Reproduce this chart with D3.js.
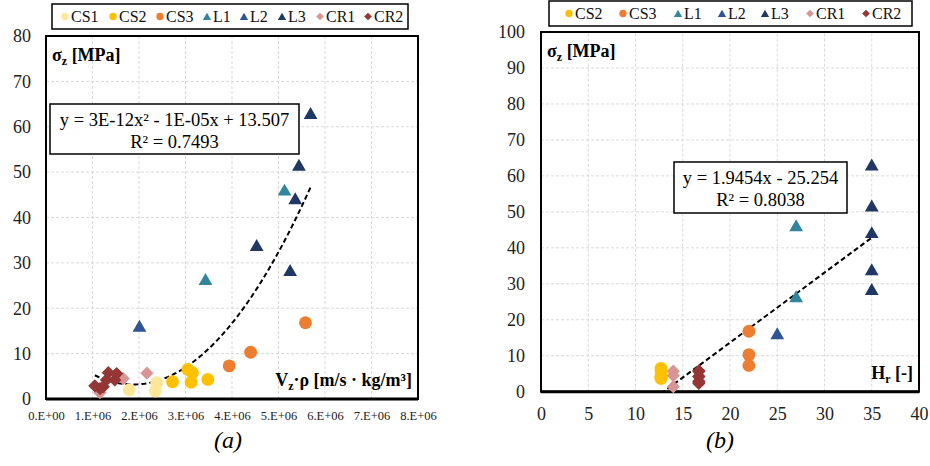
<!DOCTYPE html>
<html>
<head>
<meta charset="utf-8">
<script src="https://cdn.jsdelivr.net/npm/d3@7"></script>
<style>
  html, body { margin: 0; padding: 0; background: #fff; }
  svg { display: block; }
  svg text { font-family: "Liberation Serif", "Times New Roman", serif; }
</style>
</head>
<body>
<svg id="chart" width="930" height="466"></svg>
<script>
// ---- data: sigma_z [MPa] per series, with V_z·rho and H_r ----
const seriesNames = ["CS1", "CS2", "CS3", "L1", "L2", "L3", "CR1", "CR2"];
const seriesColors = ["#FFE699", "#FFC000", "#ED7D31", "#31859C", "#2F5597", "#203864", "#D99594", "#943634"];
const seriesShapes = ["circle", "circle", "circle", "triangle", "triangle", "triangle", "diamond", "diamond"];

const sigmaCS1 = [2.0, 1.8, 3.6];
const sigmaCS2 = [6.5, 5.8, 3.7, 4.3, 3.8];
const sigmaCS3 = [16.8, 10.3, 7.3];
const sigmaL1  = [26.0, 45.7];
const sigmaL2  = [15.7];
const sigmaL3  = [62.6, 51.2, 43.8, 33.5, 28.0];
const sigmaCR1 = [5.7, 4.5, 1.4];
const sigmaCR2 = [5.8, 5.6, 4.2, 4.2, 2.9, 2.7, 2.3];

const vzRhoCS1 = [1.79e6, 2.35e6, 2.38e6];
const vzRhoCS2 = [3.05e6, 3.15e6, 3.12e6, 3.48e6, 2.72e6];
const vzRhoCS3 = [5.58e6, 4.40e6, 3.94e6];
const vzRhoL1  = [3.43e6, 5.13e6];
const vzRhoL2  = [2.01e6];
const vzRhoL3  = [5.69e6, 5.44e6, 5.36e6, 4.53e6, 5.25e6];
const vzRhoCR1 = [2.17e6, 1.66e6, 1.16e6];
const vzRhoCR2 = [1.34e6, 1.52e6, 1.48e6, 1.30e6, 1.05e6, 1.23e6, 1.16e6];

// H_r of each series (CS1 has no H_r value)
const hrValues = [null, 12.7, 22, 27, 25, 35, 14, 16.7];

// tick values
const xTicksA = [0, 1e6, 2e6, 3e6, 4e6, 5e6, 6e6, 7e6, 8e6];
const yTicksA = [0, 10, 20, 30, 40, 50, 60, 70, 80];
const xTicksB = [0, 5, 10, 15, 20, 25, 30, 35, 40];
const yTicksB = [0, 10, 20, 30, 40, 50, 60, 70, 80, 90, 100];

// linear trend of panel (b)
const trendB = [1.9454, -25.254];

const sigmaAll = [sigmaCS1, sigmaCS2, sigmaCS3, sigmaL1, sigmaL2, sigmaL3, sigmaCR1, sigmaCR2];
const vzRhoAll = [vzRhoCS1, vzRhoCS2, vzRhoCS3, vzRhoL1, vzRhoL2, vzRhoL3, vzRhoCR1, vzRhoCR2];

const FONT = "Liberation Serif";
const svg = d3.select("#chart");

function symbolPath(shape, big) {
  if (shape === "circle") return d3.symbol(d3.symbolCircle, big ? 130 : 42)();
  if (shape === "triangle") return d3.symbol(d3.symbolTriangle, big ? 82 : 30)();
  return d3.symbol(d3.symbolSquare, big ? 88 : 30)();
}
function symbolRotate(shape) { return shape === "diamond" ? " rotate(45)" : ""; }

function drawPanel(cfg) {
  const { x, y, g } = cfg;
  const [x0, x1] = x.range();
  const [y0, y1] = y.range();

  const clipId = cfg.id + "-clip";
  g.append("clipPath").attr("id", clipId)
    .append("rect").attr("x", x0).attr("y", y1).attr("width", x1 - x0).attr("height", y0 - y1);

  // grid
  const grid = g.append("g");
  grid.selectAll(".gx").data(cfg.xTicks.slice(1, -1)).join("line")
    .attr("x1", d => x(d)).attr("x2", d => x(d)).attr("y1", y0).attr("y2", y1)
    .attr("stroke", "#D9D9D9").attr("stroke-width", 1).attr("stroke-dasharray", "3,2");
  grid.selectAll(".gy").data(cfg.yTicks.slice(1, -1)).join("line")
    .attr("x1", x0).attr("x2", x1).attr("y1", d => y(d)).attr("y2", d => y(d))
    .attr("stroke", "#D9D9D9").attr("stroke-width", 1).attr("stroke-dasharray", "3,2");

  // axes
  const ax = g.append("g").attr("transform", `translate(0,${y0})`)
    .call(d3.axisBottom(x).tickValues(cfg.xTicks).tickSize(0).tickPadding(cfg.xPad).tickFormat(cfg.xFormat));
  ax.attr("font-family", FONT);
  ax.select(".domain").remove();
  ax.selectAll("text").attr("font-size", cfg.xFont).attr("fill", "#222");

  const ay = g.append("g").attr("transform", `translate(${x0},0)`)
    .call(d3.axisLeft(y).tickValues(cfg.yTicks).tickSize(0).tickPadding(cfg.yPad));
  ay.attr("font-family", FONT);
  ay.select(".domain").remove();
  ay.selectAll("text").attr("font-size", 18).attr("fill", "#222");

  // plot frame
  g.append("rect").attr("x", x0).attr("y", y1).attr("width", x1 - x0).attr("height", y0 - y1)
    .attr("fill", "none").attr("stroke", "#000").attr("stroke-width", 2);
  g.append("line").attr("x1", x0).attr("x2", x1).attr("y1", y0).attr("y2", y0)
    .attr("stroke", "#000").attr("stroke-width", 3);

  // axis titles
  const ty = g.append("text").attr("x", x0 + 6).attr("y", y1 + 25)
    .attr("font-weight", "bold").attr("font-size", 18);
  ty.append("tspan").text("σ");
  ty.append("tspan").attr("font-size", 12).attr("dy", 4).text("z");
  ty.append("tspan").attr("dy", -4).text(" [MPa]");

  const tx = g.append("text").attr("x", x1 - 6).attr("y", y0 - 13)
    .attr("text-anchor", "end").attr("font-weight", "bold").attr("font-size", 18);
  cfg.xTitle(tx);

  // trend line
  g.append("path").attr("clip-path", `url(#${clipId})`)
    .attr("d", d3.line().x(d => x(d[0])).y(d => y(d[1]))(cfg.trend))
    .attr("fill", "none").attr("stroke", "#000").attr("stroke-width", 2).attr("stroke-dasharray", "5,3");

  // points
  const pts = g.append("g");
  cfg.points.forEach(p => {
    pts.append("path")
      .attr("d", symbolPath(seriesShapes[p.s], true))
      .attr("transform", `translate(${x(p.x)},${y(p.y)})` + symbolRotate(seriesShapes[p.s]))
      .attr("fill", seriesColors[p.s]);
  });

  // equation box
  const eb = cfg.eqBox;
  g.append("rect").attr("x", eb.x).attr("y", eb.y).attr("width", eb.w).attr("height", eb.h)
    .attr("fill", "#fff").attr("stroke", "#000").attr("stroke-width", 1.5);
  g.append("text").attr("x", eb.x + eb.w / 2).attr("y", eb.y + 22)
    .attr("text-anchor", "middle").attr("font-size", 18.5).text(eb.line1);
  g.append("text").attr("x", eb.x + eb.w / 2).attr("y", eb.y + 44)
    .attr("text-anchor", "middle").attr("font-size", 18.5).text(eb.line2);

  // legend
  const lg = cfg.legend;
  g.append("rect").attr("x", lg.x).attr("y", lg.y).attr("width", lg.w).attr("height", lg.h)
    .attr("fill", "#fff").attr("stroke", "#000").attr("stroke-width", 1.5);
  lg.items.forEach((s, i) => {
    const cx = lg.xs[i];
    const cy = lg.y + lg.h / 2;
    g.append("path").attr("d", symbolPath(seriesShapes[s], false))
      .attr("transform", `translate(${cx},${cy + (seriesShapes[s] === "triangle" ? 1 : 0)})` + symbolRotate(seriesShapes[s]))
      .attr("fill", seriesColors[s]);
    g.append("text").attr("x", cx + 6).attr("y", cy + 5.5).attr("font-size", 16).attr("fill", "#111")
      .text(seriesNames[s]);
  });

  // caption
  g.append("text").attr("x", cfg.caption.x).attr("y", 448).attr("text-anchor", "middle")
    .attr("font-style", "italic").attr("font-size", 24).text(cfg.caption.t);
}

// ---- panel (a): quadratic least-squares trend ----
const ptsA = [];
sigmaAll.forEach((arr, s) => arr.forEach((v, i) => ptsA.push({ s, x: vzRhoAll[s][i], y: v })));

function quadFit(points) {
  // normal equations on x scaled to 1e6
  const S = [0, 0, 0, 0, 0], T = [0, 0, 0];
  points.forEach(p => {
    const u = p.x / 1e6;
    for (let k = 0; k < 5; k++) S[k] += Math.pow(u, k);
    for (let k = 0; k < 3; k++) T[k] += p.y * Math.pow(u, k);
  });
  const A = [[S[0], S[1], S[2], T[0]], [S[1], S[2], S[3], T[1]], [S[2], S[3], S[4], T[2]]];
  for (let i = 0; i < 3; i++) {
    for (let j = i + 1; j < 3; j++) {
      const f = A[j][i] / A[i][i];
      for (let k = i; k < 4; k++) A[j][k] -= f * A[i][k];
    }
  }
  const c = [0, 0, 0];
  for (let i = 2; i >= 0; i--) {
    let sum = A[i][3];
    for (let k = i + 1; k < 3; k++) sum -= A[i][k] * c[k];
    c[i] = sum / A[i][i];
  }
  return c; // c0 + c1 u + c2 u^2
}
const coefA = quadFit(ptsA);
const xMinA = d3.min(ptsA, d => d.x), xMaxA = d3.max(ptsA, d => d.x);
const trendA = d3.range(0, 101).map(i => {
  const xv = xMinA + (xMaxA - xMinA) * i / 100;
  const u = xv / 1e6;
  return [xv, coefA[0] + coefA[1] * u + coefA[2] * u * u];
});

const gA = svg.append("g").attr("font-family", FONT);
drawPanel({
  id: "pa", g: gA,
  x: d3.scaleLinear().domain([0, 8e6]).range([46, 418]),
  y: d3.scaleLinear().domain([0, 80]).range([399, 36]),
  xTicks: xTicksA, yTicks: yTicksA,
  xFormat: d => (d / 1e6).toFixed(0) + ".E+" + (d === 0 ? "00" : "06"),
  xFont: 12.5, xPad: 12, yPad: 15,
  xTitle: t => {
    t.append("tspan").text("V");
    t.append("tspan").attr("font-size", 12).attr("dy", 4).text("z");
    t.append("tspan").attr("dy", -4).text("·ρ [m/s · kg/m³]");
  },
  trend: trendA,
  points: ptsA,
  eqBox: { x: 50, y: 104, w: 249, h: 50, line1: "y = 3E-12x² - 1E-05x + 13.507", line2: "R² = 0.7493" },
  legend: { x: 52, y: 4, w: 356, h: 25, items: [0, 1, 2, 3, 4, 5, 6, 7],
            xs: [65, 113, 160, 207, 244, 282, 320, 368] },
  caption: { x: 228, t: "(a)" }
});

// ---- panel (b): linear trend ----
const ptsB = [];
sigmaAll.forEach((arr, s) => { if (hrValues[s] !== null) arr.forEach(v => ptsB.push({ s, x: hrValues[s], y: v })); });
const xMinB = d3.min(ptsB, d => d.x), xMaxB = d3.max(ptsB, d => d.x);
const trendLineB = [xMinB, xMaxB].map(h => [h, trendB[0] * h + trendB[1]]);

const gB = svg.append("g").attr("font-family", FONT);
drawPanel({
  id: "pb", g: gB,
  x: d3.scaleLinear().domain([0, 40]).range([541, 919]),
  y: d3.scaleLinear().domain([0, 100]).range([391.7, 32]),
  xTicks: xTicksB, yTicks: yTicksB,
  xFormat: d => d, xFont: 18, xPad: 16, yPad: 16,
  xTitle: t => {
    t.append("tspan").text("H");
    t.append("tspan").attr("font-size", 12).attr("dy", 4).text("r");
    t.append("tspan").attr("dy", -4).text(" [-]");
  },
  trend: trendLineB,
  points: ptsB,
  eqBox: { x: 674, y: 162, w: 173, h: 51, line1: "y = 1.9454x - 25.254", line2: "R² = 0.8038" },
  legend: { x: 549, y: 1, w: 363, h: 25, items: [1, 2, 3, 4, 5, 6, 7],
            xs: [569, 623, 678, 722, 765, 810, 866] },
  caption: { x: 720, t: "(b)" }
});
</script>
</body>
</html>
